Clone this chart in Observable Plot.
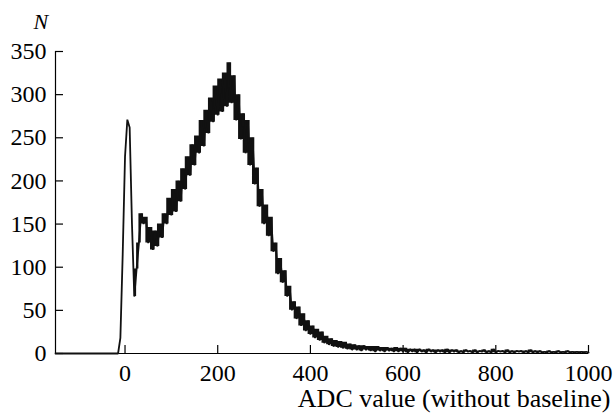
<!DOCTYPE html>
<html>
<head>
<meta charset="utf-8">
<script src="https://cdn.jsdelivr.net/npm/d3@7"></script>
<script src="https://cdn.jsdelivr.net/npm/@observablehq/plot@0.6"></script>
<style>
  html, body { margin: 0; padding: 0; background: #fff; }
  #chart svg { display: block; }
</style>
</head>
<body>
<div id="chart"></div>
<script>
// ---- data ----
const binStart = -150;   // first ADC bin
const binWidth = 5;      // ADC units per bin
const counts = [
  // -150 .. -20 : empty
  0,0,0,0,0,0,0,0,0,0,0,0,0,0,0,0,0,0,0,0,0,0,0,0,0,0,0,
  // -15 .. 615
  0,18,115,228,271,262,150,66,98,128,162,150,158,128,146,120,142,124,150,134,
  162,150,180,160,190,164,200,176,214,190,228,206,242,218,252,232,270,240,282,255,
  296,268,310,276,318,280,325,286,337,290,322,270,300,248,278,232,270,218,250,196,
  215,170,190,150,172,136,158,118,128,92,110,82,96,66,78,50,60,40,54,32,
  46,26,38,22,32,18,28,15,25,12,20,10,17,8,15,7,14,6,13,5,
  11,4,10,4,9,3,9,4,8,3,8,2,8,3,7,2,7,3,6,2,
  7,2,6,2,6,1,5,
  // 620 .. 1000
  2,5,1,5,2,4,1,5,2,4,1,4,2,4,1,5,1,4,2,4,
  1,3,1,4,2,3,1,4,1,3,2,4,1,3,1,5,1,3,2,3,
  1,4,1,3,1,3,2,3,1,3,1,4,1,3,1,3,1,2,1,3,
  1,2,1,3,1,2,1,3,1,2,1,2,1,2,1,2,1
];
const xTicks = [0, 200, 400, 600, 800, 1000];
const yTicks = [0, 50, 100, 150, 200, 250, 300, 350];
const xDomain = [-150, 1000];
const yDomain = [0, 350];
const xTitle = "ADC value (without baseline)";
const yTitle = "N";

const data = counts.map((n, i) => ({adc: binStart + i * binWidth, n}));
// vertical extent of each step between neighbouring bins (fills the noisy band)
const band = data.slice(0, -1).map((d, i) => ({
  adc: d.adc,
  lo: Math.min(d.n, data[i + 1].n),
  hi: Math.max(d.n, data[i + 1].n)
})).filter(d => d.adc >= 20);

const W = 615, H = 413;
const mT = 51, mR = 27, mB = 60, mL = 55;
const frameW = W - mL - mR, frameH = H - mT - mB;
const serif = "Liberation Serif";

const chart = Plot.plot({
  width: W,
  height: H,
  marginTop: mT,
  marginRight: mR,
  marginBottom: mB,
  marginLeft: mL,
  style: {fontFamily: serif, fontSize: "24px", background: "#fff", color: "#000"},
  x: {domain: xDomain},
  y: {domain: yDomain},
  marks: [
    // axis lines
    Plot.ruleY([0], {x1: xDomain[0], x2: xDomain[1], stroke: "#000", strokeWidth: 1.2}),
    Plot.ruleX([xDomain[0]], {y1: yDomain[0], y2: yDomain[1], stroke: "#000", strokeWidth: 1.2}),
    // inward ticks
    Plot.tickY(yTicks, {y: d => d, insetRight: frameW - 8, stroke: "#000", strokeWidth: 1.2}),
    Plot.tickX(xTicks, {x: d => d, insetTop: frameH - 8, stroke: "#000", strokeWidth: 1.2}),
    // tick labels
    Plot.axisY(yTicks, {tickSize: 0, tickPadding: 9, label: null, fontSize: 24, fontFamily: serif, tickFormat: d => String(d)}),
    Plot.axisX(xTicks, {tickSize: 0, tickPadding: 10, label: null, fontSize: 24, fontFamily: serif, tickFormat: d => String(d)}),
    // histogram
    Plot.areaY(band, {x: "adc", y1: "lo", y2: "hi", curve: "step-after", fill: "#111"}),
    Plot.line(data, {x: "adc", y: "n", stroke: "#111", strokeWidth: 1.8, strokeLinejoin: "miter", curve: "linear"}),
    // titles
    Plot.text([xTitle], {frameAnchor: "bottom-right", dx: 22, dy: 45, textAnchor: "end", lineAnchor: "middle", fontSize: 26, fontFamily: serif, fill: "#000"}),
    Plot.text([yTitle], {frameAnchor: "top-left", dx: -22, dy: -30, lineAnchor: "middle", fontStyle: "italic", fontSize: 22, fontFamily: serif, fill: "#000"})
  ]
});
document.getElementById("chart").appendChild(chart);
</script>
</body>
</html>
